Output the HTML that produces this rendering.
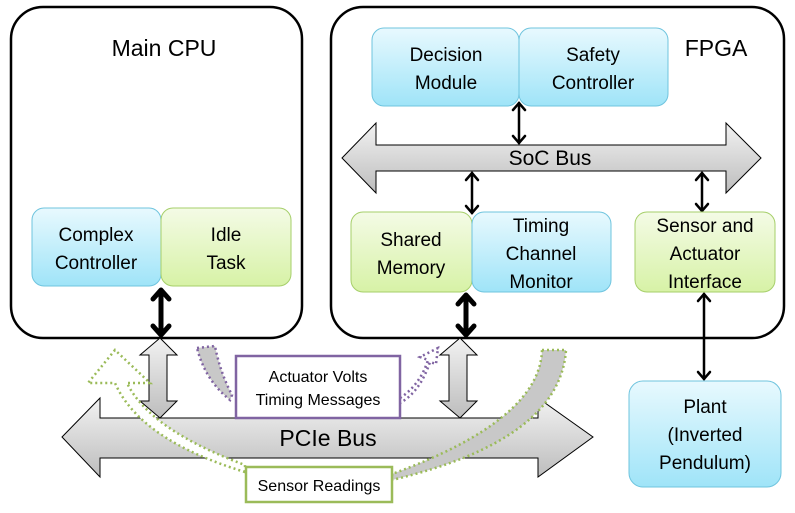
<!DOCTYPE html>
<html><head><meta charset="utf-8"><style>
html,body{margin:0;padding:0;background:#fff;}
svg{display:block;}
text{font-family:"Liberation Sans",sans-serif;fill:#000;}
</style></head><body>
<svg width="795" height="513" viewBox="0 0 795 513" xmlns="http://www.w3.org/2000/svg">
<defs>
<linearGradient id="bl" x1="0" y1="0" x2="0" y2="1"><stop offset="0" stop-color="#e8f9fe"/><stop offset="1" stop-color="#9fe4f8"/></linearGradient>
<linearGradient id="gr" x1="0" y1="0" x2="0" y2="1"><stop offset="0" stop-color="#f4fbe6"/><stop offset="1" stop-color="#d7f2a6"/></linearGradient>
<linearGradient id="gy" x1="0" y1="0" x2="0" y2="1"><stop offset="0" stop-color="#f2f2f2"/><stop offset="1" stop-color="#bdbdbd"/></linearGradient>
<marker id="ah" markerWidth="6" markerHeight="6" refX="3" refY="3" orient="auto-start-reverse" markerUnits="userSpaceOnUse" viewBox="0 0 6 6"><path d="M0,0 L3,3 L0,6" fill="none" stroke="#000" stroke-width="1.5"/></marker>
</defs>
<!-- containers -->
<rect x="11" y="7" width="291" height="331" rx="32" fill="#fff" stroke="#000" stroke-width="2.5"/>
<rect x="331" y="7" width="453" height="331" rx="32" fill="#fff" stroke="#000" stroke-width="2.5"/>
<text x="164" y="56" font-size="23" text-anchor="middle">Main CPU</text>
<text x="716" y="56" font-size="23" text-anchor="middle">FPGA</text>

<!-- FPGA top blocks -->
<rect x="372" y="28" width="147" height="78" rx="12" fill="url(#bl)" stroke="#6fc4de"/>
<rect x="519" y="28" width="149" height="78" rx="12" fill="url(#bl)" stroke="#6fc4de"/>
<text x="446" y="61" font-size="19" text-anchor="middle">Decision</text>
<text x="446" y="89" font-size="19" text-anchor="middle">Module</text>
<text x="593" y="61" font-size="19" text-anchor="middle">Safety</text>
<text x="593" y="89" font-size="19" text-anchor="middle">Controller</text>

<!-- SoC bus -->
<path d="M342,158 L376,123 L376,145 L726,145 L726,123 L761,158 L726,193 L726,171 L376,171 L376,193 Z" fill="url(#gy)" stroke="#000" stroke-width="1"/>
<text x="550" y="165" font-size="21" text-anchor="middle">SoC Bus</text>

<!-- thin arrows -->
<g stroke="#000" stroke-width="2.5" fill="none" stroke-linecap="round">
<line x1="519" y1="103" x2="519" y2="143"/><path d="M513,110 L519,103 L525,110 M513,136 L519,143 L525,136"/>
<line x1="472" y1="173" x2="472" y2="213"/><path d="M466,180 L472,173 L478,180 M466,206 L472,213 L478,206"/>
<line x1="702" y1="173" x2="702" y2="211"/><path d="M696,180 L702,173 L708,180 M696,204 L702,211 L708,204"/>
<line x1="704" y1="294" x2="704" y2="379"/><path d="M698,301 L704,294 L710,301 M698,372 L704,379 L710,372"/>
</g>

<!-- FPGA lower blocks -->
<rect x="351" y="212" width="121" height="80" rx="12" fill="url(#gr)" stroke="#a6cf6a"/>
<rect x="472" y="212" width="139" height="80" rx="12" fill="url(#bl)" stroke="#6fc4de"/>
<rect x="635" y="212" width="140" height="80" rx="12" fill="url(#gr)" stroke="#a6cf6a"/>
<text x="411" y="246" font-size="19" text-anchor="middle">Shared</text>
<text x="411" y="274" font-size="19" text-anchor="middle">Memory</text>
<text x="541" y="232" font-size="19" text-anchor="middle">Timing</text>
<text x="541" y="260" font-size="19" text-anchor="middle">Channel</text>
<text x="541" y="288" font-size="19" text-anchor="middle">Monitor</text>
<text x="705" y="232" font-size="19" text-anchor="middle">Sensor and</text>
<text x="705" y="260" font-size="19" text-anchor="middle">Actuator</text>
<text x="705" y="288" font-size="19" text-anchor="middle">Interface</text>

<!-- CPU blocks -->
<rect x="32" y="208" width="129" height="78" rx="12" fill="url(#bl)" stroke="#6fc4de"/>
<rect x="161" y="208" width="130" height="78" rx="12" fill="url(#gr)" stroke="#a6cf6a"/>
<text x="96" y="241" font-size="19" text-anchor="middle">Complex</text>
<text x="96" y="269" font-size="19" text-anchor="middle">Controller</text>
<text x="226" y="241" font-size="19" text-anchor="middle">Idle</text>
<text x="226" y="269" font-size="19" text-anchor="middle">Task</text>

<!-- thick arrows -->
<g stroke="#000" stroke-width="5" fill="none" stroke-linecap="round" stroke-linejoin="round">
<line x1="161" y1="292" x2="161" y2="333"/><path d="M153,299 L161,290 L169,299 M153,326 L161,335 L169,326"/>
<line x1="466" y1="297" x2="466" y2="333"/><path d="M458,304 L466,295 L474,304 M458,326 L466,335 L474,326"/>
</g>

<!-- Plant -->
<rect x="629" y="381" width="152" height="106" rx="14" fill="url(#bl)" stroke="#6fc4de"/>
<text x="705" y="413" font-size="19" text-anchor="middle">Plant</text>
<text x="705" y="441" font-size="19" text-anchor="middle">(Inverted</text>
<text x="705" y="469" font-size="19" text-anchor="middle">Pendulum)</text>

<!-- purple dotted curved arrows -->
<path d="M197,348 L215,346 Q220,372 232,395 L230,400 Q205,380 197,348 Z" fill="#c8c8c8" stroke="#8064a2" stroke-width="2.5" stroke-dasharray="2,3"/>
<path d="M400,398 Q420,385 428,360 L420,357 L438,348 L436,364 L430,362 Q420,392 400,403 Z" fill="#fff" stroke="#8064a2" stroke-width="2.5" stroke-dasharray="2,3"/>

<!-- PCIe bus -->
<path d="M62,437 L100,398 L100,418 L538,418 L538,398 L593,437 L538,477 L538,458 L100,458 L100,477 Z" fill="url(#gy)" stroke="#000" stroke-width="1"/>
<text x="328" y="446" font-size="23" text-anchor="middle">PCIe Bus</text>

<!-- vertical hollow double arrows -->
<path d="M160,338 L177,355 L167,355 L167,401 L177,401 L160,418 L140,401 L149,401 L149,355 L140,355 Z" fill="url(#gy)" stroke="#000" stroke-width="1"/>
<path d="M460,338 L477,355 L467,355 L467,401 L477,401 L460,418 L440,401 L449,401 L449,355 L440,355 Z" fill="url(#gy)" stroke="#000" stroke-width="1"/>

<!-- green dotted curved arrows -->
<path d="M542,350 L566,350 Q560,440 392,480 L392,474 Q540,420 542,350 Z" fill="#c8c8c8" stroke="#9bbb59" stroke-width="2.5" stroke-dasharray="2,3"/>
<path d="M245,472 Q140,440 115,383 L88,383 L115,350 L150,383 L127,383 Q150,430 245,465 Z" fill="#fff" stroke="#9bbb59" stroke-width="2.5" stroke-dasharray="2,3"/>

<!-- label boxes -->
<rect x="236" y="356" width="164" height="62" fill="#fff" stroke="#8064a2" stroke-width="2.5"/>
<text x="318" y="382" font-size="16" text-anchor="middle">Actuator Volts</text>
<text x="318" y="405" font-size="16" text-anchor="middle">Timing Messages</text>
<rect x="246" y="467" width="146" height="35" fill="#fff" stroke="#9bbb59" stroke-width="2.5"/>
<text x="319" y="491" font-size="16" text-anchor="middle">Sensor Readings</text>
</svg>
</body></html>
